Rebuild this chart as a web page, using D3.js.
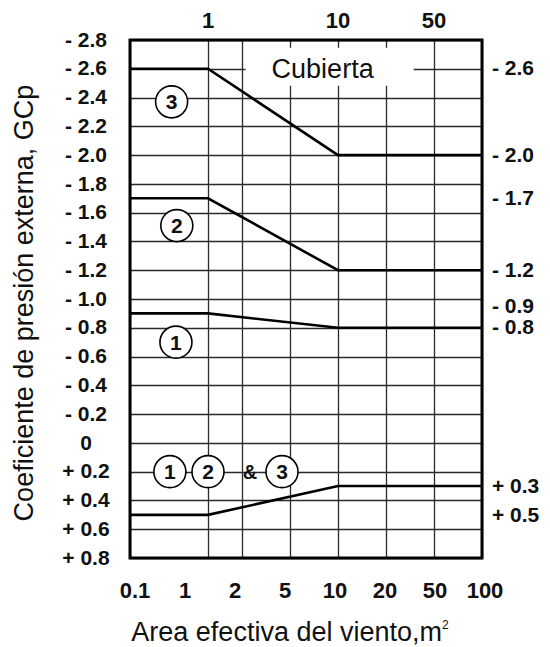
<!DOCTYPE html>
<meta charset="utf-8">
<html>
<head>
<script src="https://d3js.org/d3.v7.min.js"></script>
<style>
  body { margin: 0; background: #fff; }
  svg text { font-family: "Liberation Sans", Arial, sans-serif; fill: #111; }
</style>
</head>
<body>
<svg width="550" height="647"></svg>
<script>

// vertical grid lines, effective wind area (m2)
var gridAreas = [0.1, 1, 2, 5, 10, 20, 50, 100];
var topLabels = [1, 10, 50];
var bottomLabels = ["0.1", "1", "2", "5", "10", "20", "50", "100"];

// GCp ticks, -2.8 .. +0.8
var gcpTicks = d3.range(-14, 5).map(function(d) { return d / 5; });
var rightValues = [-2.6, -2.0, -1.7, -1.2, -0.9, -0.8, 0.3, 0.5];

// zone curves
var zoneAreas = [0.1, 1, 10, 100];
var zone3 = [-2.6, -2.6, -2.0, -2.0];
var zone2 = [-1.7, -1.7, -1.2, -1.2];
var zone1 = [-0.9, -0.9, -0.8, -0.8];
var zonesPos = [0.5, 0.5, 0.3, 0.3];

// circled zone tags
var tagText = ["3", "2", "1", "1", "2", "3"];
var tagArea = [0.58, 0.64, 0.63, 0.56, 1, 4.5];
var tagGcp = [-2.37, -1.51, -0.70, 0.2, 0.2, 0.2];

var svg = d3.select("svg"),
    margin = {top: 40, right: 68, bottom: 89, left: 130},
    width = +svg.attr("width"),
    height = +svg.attr("height"),
    x0 = margin.left, x1 = width - margin.right,
    y0 = margin.top, y1 = height - margin.bottom;

// the columns of the scanned grid are not even
var colW = [78, 34, 48, 48, 48, 48, 48];
var stops = [0];
colW.forEach(function(w) { stops.push(stops[stops.length - 1] + w); });
var total = d3.sum(colW);

var x = d3.scaleLinear()
    .domain(gridAreas)
    .range(stops.map(function(s) { return x0 + s * (x1 - x0) / total; }));

var xb = d3.scalePoint()
    .domain(bottomLabels)
    .range([x0 + 5, x1 + 3]);

var y = d3.scaleLinear()
    .domain([-2.8, 0.8])
    .range([y0, y1]);

var fmt = function(v) {
  v = Math.round(v * 10) / 10;
  if (v === 0) return "0";
  return (v < 0 ? "- " : "+ ") + Math.abs(v).toFixed(1);
};

svg.append("rect").attr("width", width).attr("height", height).attr("fill", "#fff");

// "Cubierta" label; the grid leaves a gap around it
var cubText = svg.append("text")
    .attr("x", x(8.4)).attr("y", y(-2.6)).attr("dy", "0.35em")
    .attr("text-anchor", "middle").style("font-size", "27px").text("Cubierta");
var bb = cubText.node().getBBox();
var gap = {l: bb.x - 26, r: bb.x + bb.width + 39, t: y(-2.6) - 21, b: y(-2.6) + 17};

var segs = [];
gridAreas.forEach(function(a) {
  var px = Math.round(x(a)) + 0.5;
  if (px > gap.l && px < gap.r) {
    segs.push([[px, y0], [px, gap.t]], [[px, gap.b], [px, y1]]);
  } else {
    segs.push([[px, y0], [px, y1]]);
  }
});
gcpTicks.forEach(function(v) {
  var py = Math.round(y(v)) + 0.5;
  if (py > gap.t && py < gap.b) {
    segs.push([[x0, py], [gap.l, py]], [[gap.r, py], [x1, py]]);
  } else {
    segs.push([[x0, py], [x1, py]]);
  }
});

// grid and zone lines
var line = d3.line()
    .x(function(d, i) { return x(zoneAreas[i]); })
    .y(function(d) { return y(d); });

var plot = svg.append("g").attr("fill", "none");
plot.selectAll("path.grid")
  .data(segs)
  .enter().append("path")
    .attr("class", "grid")
    .attr("d", d3.line())
    .attr("stroke", "#2a2a2a")
    .attr("stroke-width", 1.3);
plot.selectAll("path.zone")
  .data([zone3, zone2, zone1, zonesPos])
  .enter().append("path")
    .attr("class", "zone")
    .attr("d", line)
    .attr("stroke", "#000")
    .attr("stroke-width", 2.6);

// circled tags
var tags = svg.append("g").selectAll("g")
  .data(tagText)
  .enter().append("g")
    .attr("transform", function(d, k) { return "translate(" + x(tagArea[k]) + "," + y(tagGcp[k]) + ")"; });
tags.append("circle")
    .attr("r", 16)
    .attr("fill", "#fff")
    .attr("stroke", "#000")
    .attr("stroke-width", 1.6);
tags.append("text")
    .attr("text-anchor", "middle")
    .attr("dy", "0.36em")
    .style("font-size", "21px")
    .style("font-weight", "bold")
    .text(function(d) { return d; });

svg.append("text")
    .attr("x", x(2.5)).attr("y", y(0.2)).attr("dy", "0.36em")
    .attr("text-anchor", "middle")
    .style("font-size", "20px").style("font-weight", "bold")
    .text("&");

// frame
svg.append("rect")
    .attr("x", x0).attr("y", y0)
    .attr("width", x1 - x0).attr("height", y1 - y0)
    .attr("fill", "none")
    .attr("stroke", "#000")
    .attr("stroke-width", 3);

// tick labels
var lbl = svg.append("g").style("font-weight", "bold");

lbl.selectAll("text.left").data(gcpTicks).enter().append("text")
    .attr("class", "left")
    .attr("x", x0 - 44)
    .attr("y", function(d) { return y(d); })
    .attr("dy", "0.32em")
    .attr("text-anchor", "middle")
    .style("font-size", "21px")
    .text(fmt);

lbl.selectAll("text.top").data(topLabels).enter().append("text")
    .attr("class", "top")
    .attr("x", function(d) { return x(d); })
    .attr("y", y0 - 12)
    .attr("text-anchor", "middle")
    .style("font-size", "22px")
    .text(function(d) { return d; });

lbl.selectAll("text.bottom").data(bottomLabels).enter().append("text")
    .attr("class", "bottom")
    .attr("x", function(d) { return xb(d); })
    .attr("y", y1 + 24)
    .attr("dy", "0.71em")
    .attr("text-anchor", "middle")
    .style("font-size", "22px")
    .text(function(d) { return d; });

// right side values, pushed apart where they would collide
var rightPos = rightValues.map(function(v) { return {v: v, y: y(v)}; });
for (var k = rightPos.length - 2; k >= 0; k--) {
  if (rightPos[k + 1].y - rightPos[k].y < 21) rightPos[k].y = rightPos[k + 1].y - 21;
}
lbl.selectAll("text.right").data(rightPos).enter().append("text")
    .attr("class", "right")
    .attr("x", x1 + 10)
    .attr("y", function(d) { return d.y; })
    .attr("dy", "0.32em")
    .style("font-size", "21px")
    .text(function(d) { return fmt(d.v); });

// axis titles
svg.append("text")
    .attr("transform", "translate(24," + ((y0 + y1) / 2 + 4) + ") rotate(-90)")
    .attr("text-anchor", "middle")
    .attr("dy", "0.35em")
    .style("font-size", "27px")
    .text("Coeficiente de presión externa, GCp");

var xt = svg.append("text")
    .attr("x", 290)
    .attr("y", height - 6)
    .attr("text-anchor", "middle")
    .style("font-size", "27px")
    .text("Area efectiva del viento,m");
xt.append("tspan")
    .attr("dy", -12)
    .style("font-size", "12px")
    .text("2");

</script>
</body>
</html>
